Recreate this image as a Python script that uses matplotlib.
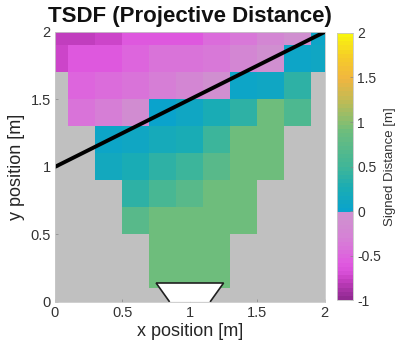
import numpy as np
import matplotlib
matplotlib.use("Agg")
import matplotlib.pyplot as plt
from matplotlib.colors import LinearSegmentedColormap
from matplotlib.patches import Polygon

plt.rcParams['font.family'] = ['Liberation Sans', 'DejaVu Sans']

# cell centres (m)
x_centres = [0.0, 0.2, 0.4, 0.6, 0.8, 1.0, 1.2, 1.4, 1.6, 1.8, 2.0]
y_centres = [0.0, 0.2, 0.4, 0.6, 0.8, 1.0, 1.2, 1.4, 1.6, 1.8, 2.0]

n = np.nan
# signed distance per cell, rows from y=0 (bottom) to y=2 (top)
sdf_rows = [
    [n, n, n, n, n, n, n, n, n, n, n],
    [n, n, n, n, 0.9, 0.9, 0.9, n, n, n, n],
    [n, n, n, n, 0.9, 0.9, 0.9, n, n, n, n],
    [n, n, n, 0.7, 0.9, 0.9, 0.9, 0.9, n, n, n],
    [n, n, n, 0.4, 0.58, 0.73, 0.9, 0.9, n, n, n],
    [n, n, 0.14, 0.22, 0.36, 0.47, 0.7, 0.9, 0.9, n, n],
    [n, n, 0.06, 0.12, 0.2, 0.25, 0.47, 0.9, 0.9, n, n],
    [n, -0.4, -0.3, -0.15, 0.03, 0.08, 0.25, 0.36, 0.9, 0.6, n],
    [n, -0.5, -0.45, -0.4, -0.3, -0.25, -0.05, 0.05, 0.12, 0.38, n],
    [-0.76, -0.6, -0.58, -0.5, -0.4, -0.4, -0.35, -0.25, -0.05, 0.05, 0.08],
    [-0.77, -0.77, -0.76, -0.6, -0.58, -0.6, -0.45, -0.35, -0.25, -0.05, 0.05],
]

# true surface and camera frustum outline
surface_x = [0.0, 2.0]
surface_y = [1.0, 2.0]
camera_xy = [(0.85, 0.0), (0.75, 0.14), (1.25, 0.14), (1.15, 0.0)]

cmap_anchors = [
    (-1.0, "#922a92"), (-0.9, "#a833a6"), (-0.8, "#c43fc0"), (-0.7, "#d850d8"),
    (-0.6, "#e05ae0"), (-0.45, "#da70da"), (-0.3, "#d582d5"), (-0.15, "#d18cd1"),
    (-0.001, "#cf91cf"), (0.0, "#0aa3cc"), (0.25, "#1aacb4"), (0.5, "#40b698"),
    (0.75, "#5cba88"), (0.9, "#6dbd7d"), (1.0, "#86be70"), (1.25, "#c0bb55"),
    (1.5, "#f0b640"), (1.75, "#f6cc28"), (2.0, "#f8f50e"),
]
cmap = LinearSegmentedColormap.from_list(
    "tsdf", [((v + 1) / 3, c) for v, c in cmap_anchors], N=64)
cmap.set_bad((0, 0, 0, 0))

fig = plt.figure(figsize=(3.98, 3.47), dpi=100)
ax = fig.add_axes([0.138, 0.130, 0.678, 0.778])
ax.set_facecolor("#c0c0c0")

grid = np.array(sdf_rows)
mesh = ax.pcolormesh(x_centres, y_centres, np.ma.masked_invalid(grid),
                     shading="nearest", cmap=cmap, vmin=-1, vmax=2)
ax.plot(surface_x, surface_y, color="black", lw=2.8)
ax.add_patch(Polygon(camera_xy, closed=False, facecolor="white",
                     edgecolor="#202020", lw=1.2, zorder=4))

ax.set_xlim(0, 2); ax.set_ylim(0, 2)
ax.set_xticks([0, 0.5, 1, 1.5, 2]); ax.set_yticks([0, 0.5, 1, 1.5, 2])
ax.set_xticklabels(["0", "0.5", "1", "1.5", "2"])
ax.set_yticklabels(["0", "0.5", "1", "1.5", "2"])
ax.tick_params(direction="in", length=2.5, width=0.5, color="#888888",
               labelsize=10.5, labelcolor="#333333", pad=3)
for s in ax.spines.values():
    s.set_color("#c8c8c8"); s.set_linewidth(0.6)
ax.set_xlabel("x position [m]", fontsize=13, color="#262626", labelpad=2)
ax.set_ylabel("y position [m]", fontsize=13, color="#262626", labelpad=4)
ax.set_title("TSDF (Projective Distance)", fontsize=16, fontweight="bold",
             color="#111111", pad=7)

cax = fig.add_axes([0.847, 0.135, 0.040, 0.770])
cb = fig.colorbar(mesh, cax=cax)
cb.set_ticks([-1, -0.5, 0, 0.5, 1, 1.5, 2])
cb.set_ticklabels(["-1", "-0.5", "0", "0.5", "1", "1.5", "2"])
cb.outline.set_edgecolor("#c8c8c8"); cb.outline.set_linewidth(0.6)
cax.tick_params(direction="in", length=2.5, width=0.5, color="#888888",
                labelsize=10, labelcolor="#333333", pad=3)
cb.set_label("Signed Distance [m]", fontsize=9.5, color="#333333", labelpad=2)

fig.savefig("out.png", dpi=100)
